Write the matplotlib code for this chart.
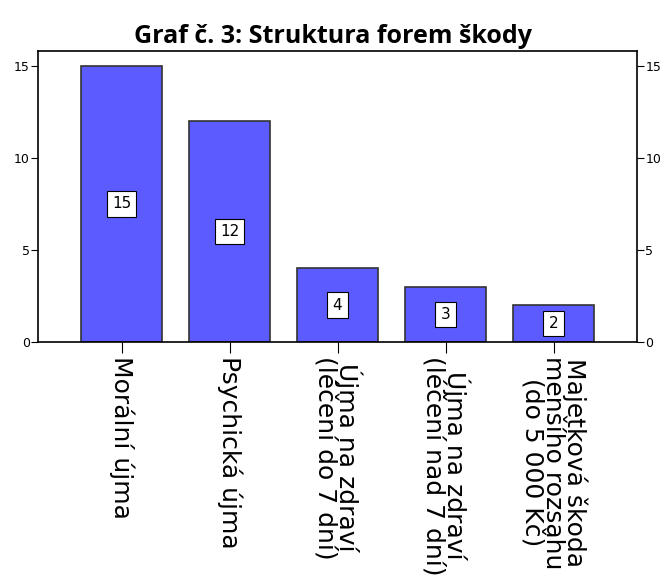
import matplotlib
matplotlib.use('Agg')
from matplotlib import pyplot as plt

categories = ['Morální újma', 'Psychická újma', 'Újma na zdraví\n(léčení do 7 dní)',
              'Újma na zdraví\n(léčení nad 7 dní)', 'Majetková škoda\nmenšího rozsahu\n(do 5 000 Kč)']
counts = [15, 12, 4, 3, 2]
yticks = [0, 5, 10, 15]

fig = plt.figure(figsize=(6.67, 5.83), dpi=100)
ax = fig.add_axes([0.057, 0.4134, 0.898, 0.4991])

x = list(range(len(categories)))
ax.bar(x, counts, width=0.75, color='#5b5bff', edgecolor='#333333', linewidth=1.2)

for xi, c in zip(x, counts):
    ax.text(xi, c / 2.0, str(c), ha='center', va='center', fontsize=11,
            bbox=dict(boxstyle='square,pad=0.35', facecolor='white', edgecolor='black', linewidth=0.8))

ax.set_xlim(-0.773, 4.773)
ax.set_ylim(0, 15.8)
ax.set_yticks(yticks)
ax.set_xticks(x)
ax.set_xticklabels(categories, rotation=-90, fontsize=18, ha='center', va='top', linespacing=0.88)

ax.tick_params(axis='y', which='both', direction='out', length=5, labelsize=9,
               right=True, labelright=True, pad=1)
ax.tick_params(axis='x', direction='out', length=8, pad=2)
for s in ax.spines.values():
    s.set_linewidth(1.2)

fig.suptitle('Graf č. 3: Struktura forem škody', y=0.958, fontsize=18, fontweight='bold',
             family='Open Sans')

plt.savefig('out.png', dpi=100)
